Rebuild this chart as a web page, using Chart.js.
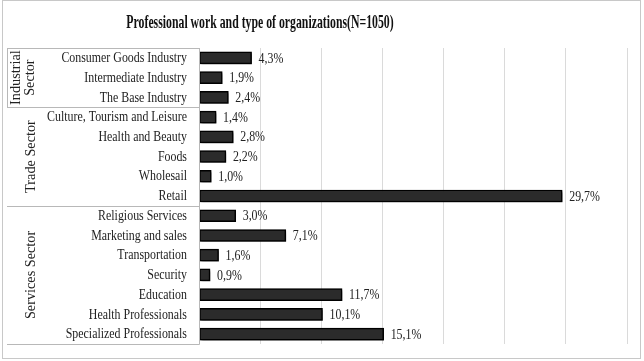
<!DOCTYPE html>
<html>
<head>
<meta charset="utf-8">
<script src="https://cdn.jsdelivr.net/npm/chart.js@4.4.1/dist/chart.umd.min.js"></script>
<style>
  body { margin: 0; background: #fff; }
  canvas { display: block; }
</style>
</head>
<body>
<canvas id="orgChart" width="644" height="361"></canvas>
<script>
const chartTitle = 'Professional work and type of organizations(N=1050)';

const categories = [
    'Consumer Goods Industry', 'Intermediate Industry', 'The Base Industry',
    'Culture, Tourism and Leisure', 'Health and Beauty', 'Foods', 'Wholesail', 'Retail',
    'Religious Services', 'Marketing and sales', 'Transportation', 'Security',
    'Education', 'Health Professionals', 'Specialized Professionals'
];
const percentages = [4.3, 1.9, 2.4, 1.4, 2.8, 2.2, 1.0, 29.7, 3.0, 7.1, 1.6, 0.9, 11.7, 10.1, 15.1];

// sector groups: label lines, first and last category index
const sectorNames = [['Industrial', 'Sector'], ['Trade Sector'], ['Services Sector']];
const sectorStart = [0, 3, 8];
const sectorEnd = [2, 7, 14];

const serif = '"Liberation Serif", "Times New Roman", serif';

function fmt(v) {
    return v.toFixed(1).replace('.', ',') + '%';
}

// draw text squeezed horizontally (the original uses a narrow serif)
function narrowText(ctx, txt, x, y, sx) {
    ctx.save();
    ctx.translate(x, y);
    ctx.scale(sx, 1);
    ctx.fillText(txt, 0, 0);
    ctx.restore();
}

const decorPlugin = {
    id: 'decor',
    beforeDraw(chart) {
        const ctx = chart.ctx;
        ctx.save();
        ctx.fillStyle = '#fff';
        ctx.fillRect(0, 0, chart.width, chart.height);
        ctx.strokeStyle = '#c8c8c8';
        ctx.lineWidth = 1;
        ctx.strokeRect(2.5, 0.5, 638, 358);

        // title
        ctx.fillStyle = '#111';
        ctx.font = 'bold 19px ' + serif;
        ctx.textAlign = 'center';
        ctx.textBaseline = 'middle';
        narrowText(ctx, chartTitle, 260, 23, 0.62);
        ctx.restore();
    },
    beforeDatasetsDraw(chart) {
        const ctx = chart.ctx;
        ctx.save();
        ctx.shadowColor = 'rgba(0,0,0,0.6)';
        ctx.shadowOffsetX = 2;
        ctx.shadowOffsetY = 2;
        ctx.shadowBlur = 3;
    },
    afterDatasetsDraw(chart) {
        const ctx = chart.ctx;
        ctx.restore();
        const yScale = chart.scales.y;
        const area = chart.chartArea;
        const meta = chart.getDatasetMeta(0);

        ctx.save();
        ctx.fillStyle = '#222';
        ctx.textBaseline = 'middle';

        // category labels
        ctx.font = '14px ' + serif;
        ctx.textAlign = 'right';
        categories.forEach((c, i) => {
            narrowText(ctx, c, 187, yScale.getPixelForTick(i) + 0.5, 0.85);
        });

        // value labels
        ctx.font = '14px ' + serif;
        ctx.textAlign = 'left';
        meta.data.forEach((bar, i) => {
            narrowText(ctx, fmt(percentages[i]), bar.x + 7, bar.y + 1, 0.85);
        });

        // sector table lines
        const band = (yScale.getPixelForTick(1) - yScale.getPixelForTick(0));
        ctx.strokeStyle = '#b8b8b8';
        ctx.lineWidth = 1;
        const x0 = 7, x1 = Math.round(area.left) + 0.5;
        sectorStart.forEach((s) => {
            const top = Math.round(yScale.getPixelForTick(s) - band / 2) + 0.5;
            ctx.beginPath();
            ctx.moveTo(x0, top);
            ctx.lineTo(x1, top);
            ctx.stroke();
        });
        const bottom = Math.round(yScale.getPixelForTick(sectorEnd[2]) + band / 2) + 0.5;
        ctx.beginPath();
        ctx.moveTo(x0, bottom);
        ctx.lineTo(x1, bottom);
        ctx.stroke();
        // left edge of first cell and right edge of table
        const firstBottom = yScale.getPixelForTick(sectorEnd[0]) + band / 2;
        ctx.beginPath();
        ctx.moveTo(x0 + 0.5, Math.round(yScale.getPixelForTick(0) - band / 2));
        ctx.lineTo(x0 + 0.5, firstBottom);
        ctx.moveTo(x1, Math.round(yScale.getPixelForTick(0) - band / 2));
        ctx.lineTo(x1, bottom);
        ctx.stroke();

        // rotated sector names
        ctx.font = '15px ' + serif;
        ctx.textAlign = 'center';
        sectorNames.forEach((lines, g) => {
            const cy = (yScale.getPixelForTick(sectorStart[g]) + yScale.getPixelForTick(sectorEnd[g])) / 2;
            lines.forEach((txt, k) => {
                const cx = lines.length === 1 ? 31 : 16 + k * 14;
                ctx.save();
                ctx.translate(cx, cy);
                ctx.rotate(-Math.PI / 2);
                ctx.scale(0.95, 1);
                ctx.fillText(txt, 0, 0);
                ctx.restore();
            });
        });
        ctx.restore();
    }
};

new Chart(document.getElementById('orgChart'), {
    type: 'bar',
    data: {
        labels: categories,
        datasets: [{
            data: percentages,
            backgroundColor: '#2b2b2b',
            borderColor: '#000',
            borderWidth: 1.5,
            borderSkipped: false,
            barThickness: 12
        }]
    },
    options: {
        indexAxis: 'y',
        responsive: false,
        animation: false,
        layout: { padding: { top: 48, bottom: 17, right: 17, left: 0 } },
        plugins: {
            legend: { display: false },
            title: { display: false },
            tooltip: { enabled: false }
        },
        scales: {
            x: {
                min: 0,
                max: 35,
                ticks: { display: false, stepSize: 5 },
                grid: { color: '#dadada', drawTicks: false },
                border: { display: false }
            },
            y: {
                grid: { display: false, drawTicks: false },
                border: { display: false },
                ticks: { display: false },
                afterFit(scale) {
                    scale.width = 199;
                }
            }
        }
    },
    plugins: [decorPlugin]
});
</script>
</body>
</html>
